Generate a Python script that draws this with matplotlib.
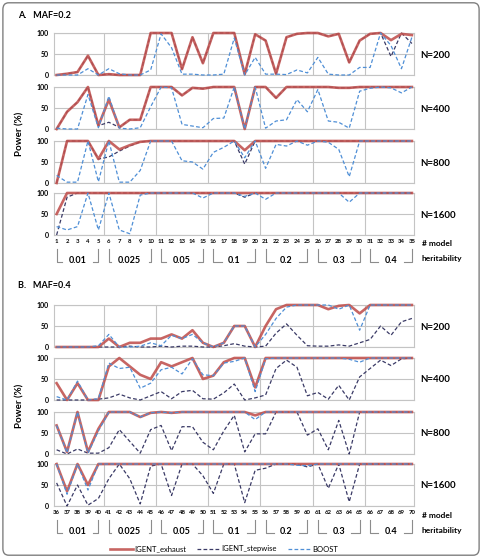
import matplotlib
matplotlib.use("Agg")
import matplotlib.pyplot as plt
from matplotlib.patches import FancyBboxPatch

plt.rcParams['font.family'] = ['Lato', 'DejaVu Sans']

models_a = list(range(1, 36))
models_b = list(range(36, 71))
heritability = ['0.01', '0.025', '0.05', '0.1', '0.2', '0.3', '0.4']
sizes = ['N=200', 'N=400', 'N=800', 'N=1600']
methods = ['IGENT_exhaust', 'IGENT_stepwise', 'BOOST']

# MAF = 0.2
exh_a200 = [0, 3, 7, 46, 0, 2, 0, 0, 0, 100, 100, 100, 14, 90, 28, 100, 100, 100, 2, 97,
            82, 3, 90, 98, 100, 100, 92, 98, 30, 82, 98, 100, 83, 98, 95]
step_a200 = [0, 3, 7, 46, 0, 2, 0, 0, 0, 100, 100, 100, 14, 90, 28, 100, 100, 100, 2, 97,
             82, 3, 90, 98, 100, 100, 92, 98, 30, 82, 98, 100, 44, 100, 75]
boost_a200 = [0, 0, 0, 15, 0, 15, 3, 0, 0, 12, 98, 65, 2, 2, 0, 0, 2, 88, 0, 42,
              2, 2, 1, 12, 5, 42, 2, 0, 0, 18, 18, 100, 70, 15, 90]

exh_a400 = [0, 41, 64, 100, 8, 70, 4, 22, 22, 100, 100, 100, 80, 98, 96, 100, 100, 100, 0, 100,
            100, 74, 100, 100, 100, 100, 100, 98, 98, 100, 100, 100, 100, 100, 100]
step_a400 = [0, 41, 64, 100, 8, 16, 4, 22, 22, 100, 100, 100, 80, 98, 96, 100, 100, 100, 0, 100,
             100, 74, 100, 100, 100, 100, 100, 98, 98, 100, 100, 100, 100, 100, 100]
boost_a400 = [2, 0, 0, 82, 3, 78, 2, 0, 3, 53, 100, 98, 11, 7, 3, 25, 26, 100, 0, 100,
              2, 19, 22, 70, 41, 94, 19, 16, 2, 90, 97, 100, 98, 86, 100]

exh_a800 = [0, 100, 100, 100, 57, 100, 80, 90, 98, 100, 100, 100, 100, 100, 100, 100, 100, 100, 78, 100,
            100, 100, 100, 100, 100, 100, 100, 100, 100, 100, 100, 100, 100, 100, 100]
step_a800 = [0, 100, 100, 100, 57, 62, 76, 88, 98, 100, 100, 100, 100, 100, 100, 100, 100, 100, 45, 100,
             100, 100, 100, 100, 100, 100, 100, 100, 100, 100, 100, 100, 100, 100, 100]
boost_a800 = [18, 2, 2, 100, 3, 100, 2, 2, 30, 100, 100, 100, 53, 50, 33, 73, 85, 100, 60, 100,
              35, 92, 88, 100, 90, 100, 97, 80, 15, 100, 100, 100, 100, 100, 100]

exh_a1600 = [50, 100, 100, 100, 100, 100, 100, 100, 100, 100, 100, 100, 100, 100, 100, 100, 100, 100, 100, 100,
             100, 100, 100, 100, 100, 100, 100, 100, 100, 100, 100, 100, 100, 100, 100]
step_a1600 = [0, 90, 100, 100, 100, 100, 100, 100, 100, 100, 100, 100, 100, 100, 100, 100, 100, 100, 90, 100,
              100, 100, 100, 100, 100, 100, 100, 100, 100, 100, 100, 100, 100, 100, 100]
boost_a1600 = [20, 12, 20, 100, 12, 100, 12, 3, 95, 100, 100, 100, 100, 100, 88, 100, 100, 100, 92, 100,
               85, 100, 100, 100, 100, 100, 100, 100, 78, 100, 100, 100, 100, 100, 100]

# MAF = 0.4
exh_b200 = [0, 0, 0, 0, 0, 20, 0, 10, 10, 20, 20, 30, 20, 40, 10, 0, 10, 50, 50, 0,
            50, 90, 100, 100, 100, 100, 90, 98, 100, 80, 100, 100, 100, 100, 100]
step_b200 = [0, 0, 0, 0, 0, 0, 0, 2, 0, 0, 2, 0, 2, 2, 0, 0, 3, 8, 2, 0,
             2, 33, 55, 28, 3, 2, 2, 5, 2, 10, 18, 50, 28, 60, 68]
boost_b200 = [0, 0, 0, 0, 3, 30, 0, 0, 2, 10, 3, 28, 20, 30, 10, 0, 10, 50, 50, 0,
              30, 68, 95, 100, 100, 100, 100, 90, 100, 40, 100, 100, 100, 100, 100]

exh_b400 = [40, 0, 40, 0, 0, 80, 100, 80, 60, 50, 90, 80, 90, 100, 50, 58, 90, 100, 100, 30,
            100, 100, 100, 100, 100, 100, 100, 100, 100, 100, 100, 100, 100, 100, 100]
step_b400 = [0, 0, 0, 0, 2, 5, 14, 5, 0, 10, 20, 3, 20, 23, 3, 2, 17, 38, 0, 5,
             12, 75, 95, 78, 10, 18, 2, 35, 0, 55, 75, 95, 82, 98, 100]
boost_b400 = [8, 0, 45, 0, 3, 88, 75, 78, 28, 40, 72, 78, 62, 98, 60, 58, 88, 92, 100, 20,
              98, 100, 100, 100, 100, 100, 100, 100, 97, 90, 100, 100, 100, 100, 100]

exh_b800 = [68, 5, 100, 5, 60, 100, 100, 100, 88, 98, 100, 98, 100, 100, 100, 100, 100, 100, 100, 92,
            100, 100, 100, 100, 100, 100, 100, 100, 100, 100, 100, 100, 100, 100, 100]
step_b800 = [10, 0, 12, 2, 2, 15, 58, 30, 2, 58, 68, 8, 65, 65, 28, 10, 55, 92, 5, 48,
             48, 100, 100, 100, 45, 60, 10, 80, 0, 100, 100, 100, 100, 100, 100]
boost_b800 = [68, 3, 100, 2, 55, 100, 100, 100, 88, 98, 100, 98, 100, 100, 100, 100, 100, 100, 100, 82,
              100, 100, 100, 100, 100, 100, 100, 100, 100, 100, 100, 100, 100, 100, 100]

exh_b1600 = [100, 35, 100, 50, 100, 100, 100, 100, 100, 100, 100, 100, 100, 100, 100, 100, 100, 100, 100, 100,
             100, 100, 100, 100, 100, 100, 100, 100, 100, 100, 100, 100, 100, 100, 100]
step_b1600 = [55, 0, 50, 2, 18, 65, 100, 65, 5, 95, 100, 25, 100, 100, 72, 30, 100, 100, 8, 85,
              90, 100, 100, 100, 93, 100, 42, 100, 10, 100, 100, 100, 100, 100, 100]
boost_b1600 = [100, 28, 100, 38, 100, 100, 100, 100, 100, 100, 100, 100, 100, 100, 100, 100, 100, 100, 100, 100,
               100, 100, 100, 97, 96, 100, 100, 100, 100, 100, 100, 100, 100, 100, 100]

panels_a = [(exh_a200, step_a200, boost_a200), (exh_a400, step_a400, boost_a400),
            (exh_a800, step_a800, boost_a800), (exh_a1600, step_a1600, boost_a1600)]
panels_b = [(exh_b200, step_b200, boost_b200), (exh_b400, step_b400, boost_b400),
            (exh_b800, step_b800, boost_b800), (exh_b1600, step_b1600, boost_b1600)]

RED = '#c0504d'
NAVY = '#3a3a66'
BLUE = '#4f8fd6'
GRID = '#c4c4c4'

W, H = 482, 558
fig = plt.figure(figsize=(W / 100, H / 100), dpi=100)


def px(x, y):
    return x / W, 1 - y / H


def add_ax(top, bottom):
    left, right = 54, 414
    return fig.add_axes([left / W, 1 - bottom / H, (right - left) / W, (bottom - top) / H])


def draw_block(models, panels, tops, title, title_y):
    x0 = models[0]
    axes = []
    for i, (exh, step, boost) in enumerate(panels):
        top = tops[i]
        ax = add_ax(top, top + 42)
        ax.plot(models, step, color=NAVY, lw=0.9, ls=(0, (3, 1.8)), zorder=3, clip_on=False, label=methods[1])
        ax.plot(models, exh, color=RED, lw=1.9, alpha=0.88, zorder=4, clip_on=False, label=methods[0])
        ax.plot(models, boost, color=BLUE, lw=0.9, ls=(0, (3, 1.8)), zorder=5, clip_on=False, label=methods[2])
        ax.set_ylim(0, 100)
        ax.set_xlim(x0 - 0.25, x0 + 34.2)
        ax.set_yticks([0, 50, 100])
        ax.set_xticks(models)
        ax.set_xticks([x0 + 4.5 + 5 * k for k in range(6)], minor=True)
        ax.grid(axis='y', which='major', color=GRID, lw=0.8)
        ax.grid(axis='x', which='minor', color=GRID, lw=0.8)
        ax.tick_params(which='both', length=0)
        ax.tick_params(axis='y', labelsize=5, pad=4)
        for t in ax.get_yticklabels():
            t.set_fontweight('bold')
        for s in ax.spines.values():
            s.set_color(GRID)
            s.set_linewidth(0.8)
        if i < 3:
            ax.tick_params(axis='x', labelbottom=False)
        else:
            ax.tick_params(axis='x', labelsize=4.3, pad=3)
            for t in ax.get_xticklabels():
                t.set_fontweight('bold')
        fig.text(*px(420, top + 22), sizes[i], fontsize=7, fontweight='bold', va='center', ha='left')
        axes.append(ax)

    bottom_ax = axes[-1]
    tr = bottom_ax.get_xaxis_transform()
    for g, lab in enumerate(heritability):
        s = x0 + 5 * g
        e = s + 4
        c = s + 2
        half = 0.3 + 0.3 * len(lab)
        y_top, y_bot = -0.33, -0.64
        bottom_ax.plot([s, s, c - half], [y_top, y_bot, y_bot], color='#8c8c8c', lw=0.8,
                       transform=tr, clip_on=False)
        bottom_ax.plot([c + half, e, e], [y_bot, y_bot, y_top], color='#8c8c8c', lw=0.8,
                       transform=tr, clip_on=False)
        bottom_ax.text(c, -0.66, lab, transform=tr, ha='center', va='baseline', fontsize=6.5,
                       fontweight='bold')

    fig.text(*px(422, tops[-1] + 51), '# model', fontsize=6, fontweight='bold', va='center')
    fig.text(*px(422, tops[-1] + 66), 'heritability', fontsize=6, fontweight='bold', va='center')
    fig.text(*px(18, title_y), title, fontsize=6.5, fontweight='bold', va='center')
    fig.text(*px(20, (tops[0] + tops[-1] + 42) / 2), 'Power (%)', fontsize=7, fontweight='bold',
             rotation=90, va='center', ha='center')
    return axes


axes_a = draw_block(models_a, panels_a, [33, 87, 141, 193], 'A.   MAF=0.2', 15)
axes_b = draw_block(models_b, panels_b, [305, 358, 412, 464], 'B.   MAF=0.4', 285)

handles, labels = axes_a[0].get_legend_handles_labels()
order = [1, 0, 2]
fig.legend([handles[k] for k in order], [labels[k] for k in order], loc='center',
           bbox_to_anchor=px(224, 549), ncol=3, frameon=False,
           fontsize=5.5, handlelength=3.0, handletextpad=0.2, columnspacing=1.4)

fig.patches.append(FancyBboxPatch((0.006, 0.005), 0.988, 0.99, boxstyle='round,pad=0,rounding_size=0.012',
                                  transform=fig.transFigure, fill=False, ec='#808080', lw=1.0))

fig.savefig('out.png', dpi=100)
